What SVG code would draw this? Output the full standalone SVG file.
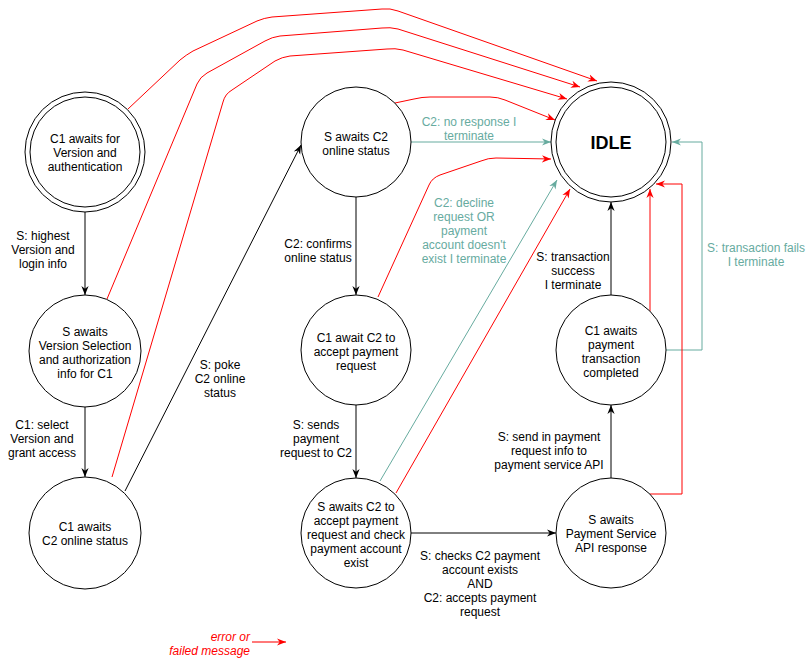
<svg xmlns="http://www.w3.org/2000/svg" width="812" height="658" viewBox="0 0 812 658">
<style>
text{font-family:"Liberation Sans",Arial,sans-serif;font-size:12px;text-anchor:middle;fill:#000}
.n{fill:#fff;stroke:#000;stroke-width:1}
.k{fill:none;stroke:#000;stroke-width:1}
.r{fill:none;stroke:#ff0000;stroke-width:1}
.g{fill:none;stroke:#67AB9F;stroke-width:1}
text.gt{fill:#67AB9F}
text.rt{fill:#ff0000;font-style:italic;text-anchor:end}
</style>
<defs>
<marker id="ak" viewBox="0 0 10 10" refX="10" refY="5" markerWidth="9" markerHeight="9" markerUnits="userSpaceOnUse" orient="auto"><path d="M0,1 L10,5 L0,9 L3,5 z" fill="#000"/></marker>
<marker id="ar" viewBox="0 0 10 10" refX="10" refY="5" markerWidth="9" markerHeight="9" markerUnits="userSpaceOnUse" orient="auto"><path d="M0,1 L10,5 L0,9 L3,5 z" fill="#ff0000"/></marker>
<marker id="ag" viewBox="0 0 10 10" refX="10" refY="5" markerWidth="9" markerHeight="9" markerUnits="userSpaceOnUse" orient="auto"><path d="M0,1 L10,5 L0,9 L3,5 z" fill="#67AB9F"/></marker>
</defs>

<g id="connectors">
<!-- black -->
<path class="k" d="M85,212 L85,295" marker-end="url(#ak)"/>
<path class="k" d="M85,407 L85,477" marker-end="url(#ak)"/>
<path class="k" d="M125,491 L301,145" marker-end="url(#ak)"/>
<path class="k" d="M356,197 L356,295" marker-end="url(#ak)"/>
<path class="k" d="M356,405 L356,478" marker-end="url(#ak)"/>
<path class="k" d="M411,533 L556,533" marker-end="url(#ak)"/>
<path class="k" d="M611,478 L611,405" marker-end="url(#ak)"/>
<path class="k" d="M611,295 L611,202" marker-end="url(#ak)"/>
<!-- green -->
<path class="g" d="M411,142 L551,142" marker-end="url(#ag)"/>
<path class="g" d="M380,481 L557,180" marker-end="url(#ag)"/>
<path class="g" d="M666,350 L702,350 L702,142 L672,142" marker-end="url(#ag)"/>
<!-- red -->
<path class="r" d="M128,109 L180,60 Q186,55 193,51 L257,21 Q264,18 272,17 L382,9 Q390,8 398,11 L597,81" marker-end="url(#ar)"/>
<path class="r" d="M107,299 L197,84 Q200,77 207,73 L265,41 Q272,37 280,36 L382,28 Q390,27 398,29 L580,87" marker-end="url(#ar)"/>
<path class="r" d="M112,477 L223,102 Q225,94 232,90 L275,61 Q282,57 290,56 L387,49 Q395,48 403,50 L567,99" marker-end="url(#ar)"/>
<path class="r" d="M395,103 L414,99 Q422,97 430,97 L490,97 Q498,97 505,100 L555,120" marker-end="url(#ar)"/>
<path class="r" d="M378,297 L429,185 Q432,178 440,175 L481,161 Q488,158 496,158 L551,159" marker-end="url(#ar)"/>
<path class="r" d="M396,493 L570,189" marker-end="url(#ar)"/>
<path class="r" d="M650,494 L682,494 L682,184 L656,184" marker-end="url(#ar)"/>
<path class="r" d="M650,311 L650,189" marker-end="url(#ar)"/>
<!-- legend arrow -->
<path d="M252,642 L286,642" fill="none" stroke="#ff4d4d" stroke-width="1.5" marker-end="url(#ar)"/>
</g>

<g id="edge-labels">
<text><tspan x="43" y="239.5">S: highest</tspan><tspan x="43" y="253.5">Version and</tspan><tspan x="43" y="267.5">login info</tspan></text>
<text><tspan x="42" y="428.5">C1: select</tspan><tspan x="42" y="442.5">Version and</tspan><tspan x="42" y="456.5">grant access</tspan></text>
<text><tspan x="220" y="368.5">S: poke</tspan><tspan x="220" y="382.5">C2 online</tspan><tspan x="220" y="396.5">status</tspan></text>
<text><tspan x="318" y="247.5">C2: confirms</tspan><tspan x="318" y="261.5">online status</tspan></text>
<text><tspan x="316" y="428.5">S: sends</tspan><tspan x="316" y="442.5">payment</tspan><tspan x="316" y="456.5">request to C2</tspan></text>
<text><tspan x="480" y="559.5">S: checks C2 payment</tspan><tspan x="480" y="573.5">account exists</tspan><tspan x="480" y="587.5">AND</tspan><tspan x="480" y="601.5">C2: accepts payment</tspan><tspan x="480" y="615.5">request</tspan></text>
<text><tspan x="549" y="440.5">S: send in payment</tspan><tspan x="549" y="454.5">request info to</tspan><tspan x="549" y="468.5">payment service API</tspan></text>
<text><tspan x="573" y="260.5">S: transaction</tspan><tspan x="573" y="274.5">success</tspan><tspan x="573" y="288.5">I terminate</tspan></text>
<text class="gt"><tspan x="469" y="125.5">C2: no response I</tspan><tspan x="469" y="139.5">terminate</tspan></text>
<text class="gt"><tspan x="464" y="206.5">C2: decline</tspan><tspan x="464" y="220.5">request OR</tspan><tspan x="464" y="234.5">payment</tspan><tspan x="464" y="248.5">account doesn't</tspan><tspan x="464" y="262.5">exist I terminate</tspan></text>
<text class="gt"><tspan x="756" y="251.5">S: transaction fails</tspan><tspan x="756" y="265.5">I  terminate</tspan></text>
</g>

<g id="n1">
<circle class="n" cx="85" cy="152" r="60"/>
<circle class="n" cx="85" cy="152" r="55"/>
<text><tspan x="85" y="142.5">C1 awaits for</tspan><tspan x="85" y="156.5">Version and</tspan><tspan x="85" y="170.5">authentication</tspan></text>
</g>
<g id="n2">
<circle class="n" cx="85" cy="351" r="56"/>
<text><tspan x="85" y="335.5">S awaits</tspan><tspan x="85" y="349.5">Version Selection</tspan><tspan x="85" y="363.5">and authorization</tspan><tspan x="85" y="377.5">info for C1</tspan></text>
</g>
<g id="n3">
<circle class="n" cx="85" cy="533" r="56"/>
<text><tspan x="85" y="530.5">C1 awaits</tspan><tspan x="85" y="544.5">C2 online status</tspan></text>
</g>
<g id="n4">
<circle class="n" cx="356" cy="142" r="55"/>
<text><tspan x="356" y="140.5">S awaits C2</tspan><tspan x="356" y="154.5">online status</tspan></text>
</g>
<g id="n5">
<circle class="n" cx="356" cy="350" r="55"/>
<text><tspan x="356" y="341.5">C1 await C2 to</tspan><tspan x="356" y="355.5">accept payment</tspan><tspan x="356" y="369.5">request</tspan></text>
</g>
<g id="n6">
<circle class="n" cx="356" cy="533" r="55"/>
<text><tspan x="356" y="510.5">S awaits C2 to</tspan><tspan x="356" y="524.5">accept payment</tspan><tspan x="356" y="538.5">request and check</tspan><tspan x="356" y="552.5">payment account</tspan><tspan x="356" y="566.5">exist</tspan></text>
</g>
<g id="n7">
<circle class="n" cx="611" cy="533" r="55"/>
<text><tspan x="611" y="523.5">S awaits</tspan><tspan x="611" y="537.5">Payment Service</tspan><tspan x="611" y="551.5">API response</tspan></text>
</g>
<g id="n8">
<circle class="n" cx="611" cy="350" r="55"/>
<text><tspan x="611" y="334.5">C1 awaits</tspan><tspan x="611" y="348.5">payment</tspan><tspan x="611" y="362.5">transaction</tspan><tspan x="611" y="376.5">completed</tspan></text>
</g>
<g id="idle">
<circle class="n" cx="611" cy="142" r="60"/>
<circle class="n" cx="611" cy="142" r="55"/>
<text x="611" y="149" style="font-size:18px;font-weight:bold">IDLE</text>
</g>

<g id="legend">
<text class="rt"><tspan x="250" y="640.5">error or</tspan><tspan x="250" y="654.5">failed message</tspan></text>
</g>
</svg>
